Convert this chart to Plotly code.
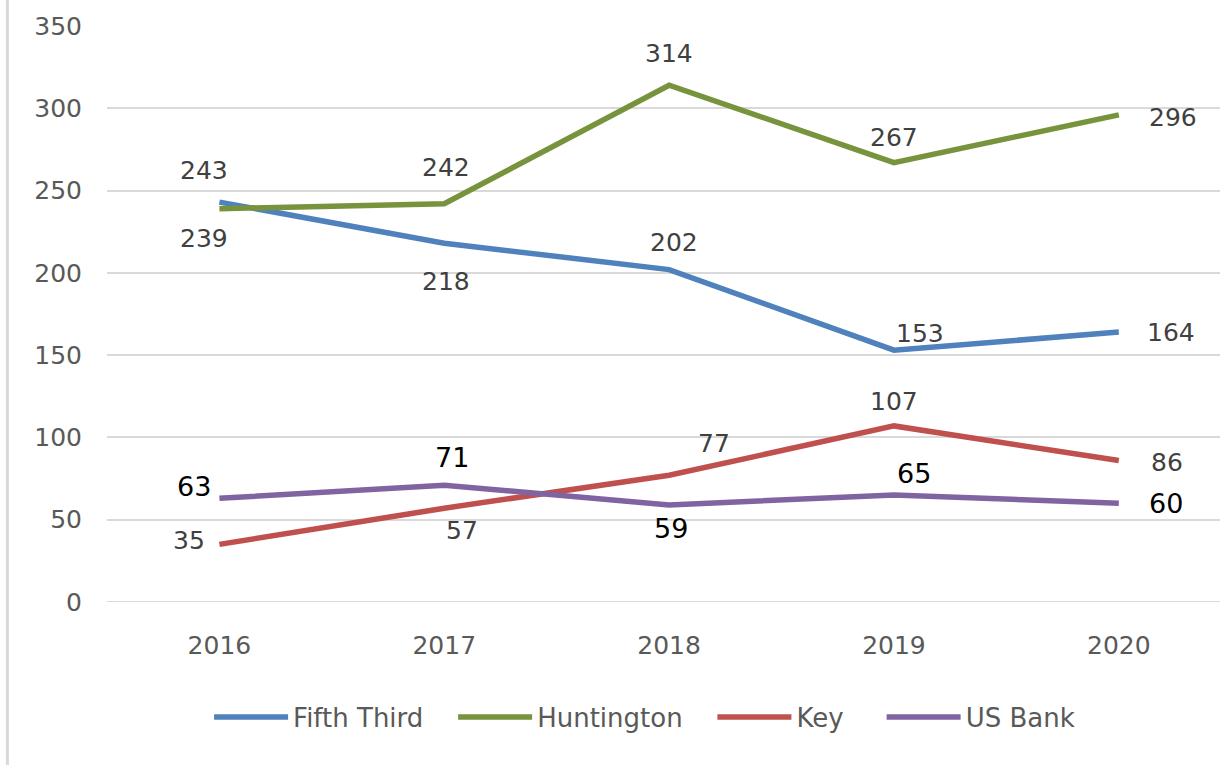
import plotly.graph_objects as go

years = ["2016", "2017", "2018", "2019", "2020"]
fifth_third = [243, 218, 202, 153, 164]
huntington = [239, 242, 314, 267, 296]
key = [35, 57, 77, 107, 86]
us_bank = [63, 71, 59, 65, 60]

series = [
    ("Fifth Third", fifth_third, "#4F81BD"),
    ("Huntington", huntington, "#77933C"),
    ("Key", key, "#C0504D"),
    ("US Bank", us_bank, "#8064A2"),
]

# label offsets (xshift, yshift) in px per point
offsets = {
    "Fifth Third": [(-15, 32), (2, -38), (5, 27), (26, 17), (52, 0)],
    "Huntington": [(-15, -30), (2, 36), (0, 32), (0, 25), (54, -3)],
    "Key": [(-30, 4), (18, -22), (45, 32), (0, 24), (48, -2)],
    "US Bank": [(-25, 12), (8, 28), (2, -24), (20, 22), (47, 0)],
}
# trailing padding so legend entries are spaced like the original
legend_pad = {"Fifth Third": 3, "Huntington": 3, "Key": 4, "US Bank": 0}

fig = go.Figure()
for name, vals, color in series:
    fig.add_trace(go.Scatter(
        x=years, y=vals, name=name + "\u00a0" * legend_pad[name], mode="lines",
        line=dict(color=color, width=5.5),
    ))
    for i, v in enumerate(vals):
        dx, dy = offsets[name][i]
        big = name == "US Bank"
        fig.add_annotation(
            x=i, y=v, xref="x", yref="y", text=str(v), showarrow=False,
            xshift=dx, yshift=dy,
            font=dict(family="DejaVu Sans", size=27 if big else 25,
                      color="#000000" if big else "#404040"),
        )

# left border of the chart box
fig.add_shape(type="line", xref="paper", yref="paper",
              x0=-0.0895, x1=-0.0895, y0=-0.3, y1=1.05,
              line=dict(color="#d9d9d9", width=3))
# the 0 gridline sits on the plot edge, plotly skips it
fig.add_shape(type="line", xref="paper", yref="y", x0=0, x1=1, y0=0, y1=0,
              layer="below", line=dict(color="#d9d9d9", width=2))

fig.update_layout(
    width=1220, height=765,
    margin=dict(l=107, r=0, t=26, b=163, autoexpand=False),
    paper_bgcolor="white", plot_bgcolor="white",
    font=dict(family="DejaVu Sans", size=25, color="#595959"),
    showlegend=True,
    legend=dict(orientation="h", x=0.483, xanchor="center", y=-0.159, yanchor="top",
                font=dict(size=26, color="#595959"), itemwidth=74),
)
fig.update_xaxes(type="category", range=[-0.5, 4.45], showgrid=False, showline=False,
                 ticks="", ticklabelstandoff=26, automargin=False)
fig.update_yaxes(range=[0, 350], dtick=50, showgrid=True, gridcolor="#d9d9d9",
                 gridwidth=2, zeroline=False, showline=False, ticks="",
                 ticklabelstandoff=24, automargin=False)

fig.write_html("out.html", config={"displayModeBar": False},
               post_script="document.body.style.margin='0';")
